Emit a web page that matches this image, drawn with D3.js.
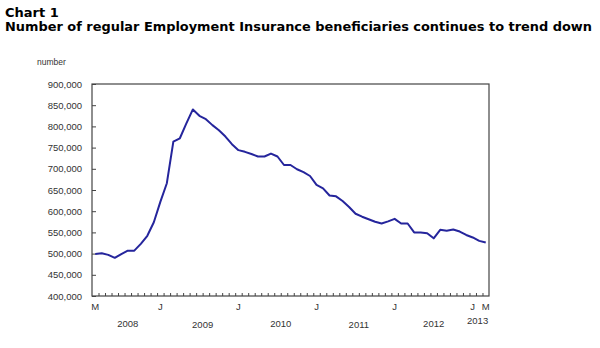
<!doctype html>
<html>

<head>
	<title>Chart 1</title>
	<script src="https://d3js.org/d3.v7.min.js"></script>
	<style>
		body { margin: 0; background: #fff; }
	</style>
</head>

<body>

	<script>

        // regular EI beneficiaries, thousands, monthly from March 2008 to March 2013
        var beneficiaries = [
            499, 501, 497, 490, 499, 507, 507, 523, 542, 574,
            622, 666, 764, 772, 807, 840, 825, 817, 803, 791,
            776, 758, 744, 740, 735, 729, 729, 736, 729, 709,
            709, 699, 692, 683, 662, 654, 637, 635, 624, 610,
            594, 587, 581, 575, 571, 576, 582, 571, 571, 550,
            550, 548, 536, 556, 554, 557, 552, 544, 538, 530,
            526
        ];

        // month letters shown under the axis (index into the series)
        var monthLabels = [
            { i: 0, text: "M" },
            { i: 10, text: "J" },
            { i: 22, text: "J" },
            { i: 34, text: "J" },
            { i: 46, text: "J" },
            { i: 58, text: "J" },
            { i: 60, text: "M" }
        ];

        var yearLabels = [
            { i: 5, text: "2008" },
            { i: 16.5, text: "2009" },
            { i: 28.5, text: "2010" },
            { i: 40.5, text: "2011" },
            { i: 52, text: "2012" },
            { i: 58.75, text: "2013" }
        ];

        var yTicks = [400000, 450000, 500000, 550000, 600000, 650000, 700000, 750000, 800000, 850000, 900000];

        var width = 600;
        var height = 348;
        var plotLeft = 92, plotRight = 489, plotTop = 84, plotBottom = 296;

        var x = d3.scaleLinear()
                    .domain([-0.5, beneficiaries.length - 0.5])
                    .range([plotLeft, plotRight]);

        var y = d3.scaleLinear()
                    .domain([400000, 900000])
                    .range([plotBottom, plotTop]);

        var svg = d3.select("body")
                .append("svg")
                .attr("width", width)
                .attr("height", height);

        // titles
        svg.append("text")
            .attr("x", 5)
            .attr("y", 17)
            .attr("font-family", "DejaVu Sans, Verdana, sans-serif")
            .attr("font-weight", "bold")
            .attr("font-size", 13)
            .text("Chart 1");

        svg.append("text")
            .attr("x", 5)
            .attr("y", 31)
            .attr("font-family", "DejaVu Sans, Verdana, sans-serif")
            .attr("font-weight", "bold")
            .attr("font-size", 13)
            .attr("textLength", 587)
            .attr("lengthAdjust", "spacingAndGlyphs")
            .text("Number of regular Employment Insurance beneficiaries continues to trend down");

        svg.append("text")
            .attr("x", 37)
            .attr("y", 65)
            .attr("font-family", "Liberation Sans, Arial, sans-serif")
            .attr("font-size", 8.5)
            .attr("fill", "#333")
            .text("number");

        // y axis, ticks pointing into the plot
        var yAxis = d3.axisLeft(y)
                        .tickValues(yTicks)
                        .tickSize(-4)
                        .tickPadding(10)
                        .tickFormat(d3.format(","));

        var gy = svg.append("g")
                .attr("transform", "translate(" + plotLeft + ",0)")
                .call(yAxis);

        gy.select(".domain").remove();
        gy.selectAll("line").attr("stroke", "#444");
        gy.selectAll("text")
            .attr("font-family", "Liberation Sans, Arial, sans-serif")
            .attr("font-size", 9.5)
            .attr("fill", "#333");

        // monthly ticks along the bottom at month boundaries
        var xAxis = d3.axisBottom(x)
                        .tickValues(d3.range(0.5, beneficiaries.length - 1, 1))
                        .tickSize(-3)
                        .tickFormat("");

        var gx = svg.append("g")
                .attr("transform", "translate(0," + plotBottom + ")")
                .call(xAxis);

        gx.select(".domain").remove();
        gx.selectAll("line").attr("stroke", "#444");

        // plot frame
        svg.append("rect")
            .attr("x", plotLeft)
            .attr("y", plotTop)
            .attr("width", plotRight - plotLeft)
            .attr("height", plotBottom - plotTop)
            .attr("fill", "none")
            .attr("stroke", "#444")
            .attr("stroke-width", 1.2);

        svg.selectAll(".month")
            .data(monthLabels)
            .enter()
                .append("text")
                .attr("class", "month")
                .attr("x", function(d) { return x(d.i); })
                .attr("y", 310)
                .attr("text-anchor", "middle")
                .attr("font-family", "Liberation Sans, Arial, sans-serif")
                .attr("font-size", 9.5)
                .attr("fill", "#333")
                .text(function(d) { return d.text; });

        svg.selectAll(".year")
            .data(yearLabels)
            .enter()
                .append("text")
                .attr("class", "year")
                .attr("x", function(d) { return x(d.i); })
                .attr("y", function(d, i) { return i == yearLabels.length - 1 ? 324 : 327 + (i % 2); })
                .attr("text-anchor", "middle")
                .attr("font-family", "Liberation Sans, Arial, sans-serif")
                .attr("font-size", 9.5)
                .attr("fill", "#333")
                .text(function(d) { return d.text; });

        var line = d3.line()
                    .x(function(d, i) { return x(i); })
                    .y(function(d) { return y(d * 1000); });

        svg.append("path")
            .datum(beneficiaries)
            .attr("fill", "none")
            .attr("stroke", "#25259c")
            .attr("stroke-width", 2)
            .attr("stroke-linejoin", "round")
            .attr("d", line);

	</script>
</body>

</html>
